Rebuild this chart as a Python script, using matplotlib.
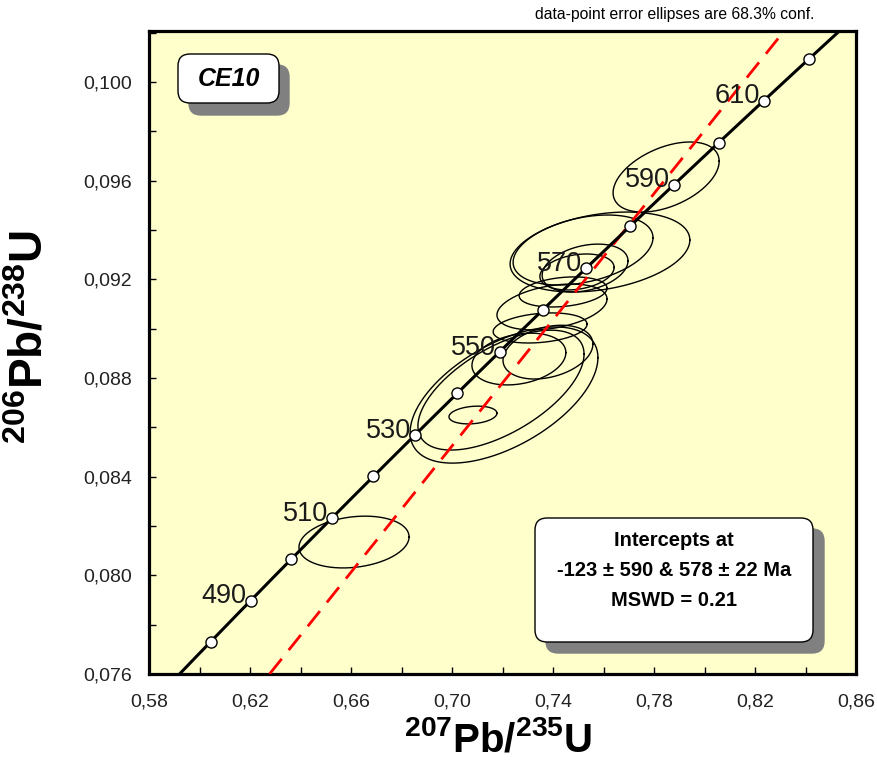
import numpy as np
import matplotlib
matplotlib.use('Agg')
import matplotlib.pyplot as plt
from matplotlib.patches import FancyBboxPatch
from matplotlib.ticker import FixedLocator, FuncFormatter, MultipleLocator
from matplotlib.transforms import IdentityTransform

plt.rcParams['font.family'] = ['Liberation Sans', 'DejaVu Sans']
plt.rcParams['mathtext.fontset'] = 'custom'
plt.rcParams['mathtext.bf'] = 'Liberation Sans:bold'
plt.rcParams['mathtext.rm'] = 'Liberation Sans:bold'
plt.rcParams['mathtext.default'] = 'bf'

# decay constants (1/Ma)
lam238 = 1.55125e-4
lam235 = 9.8485e-4

# concordia markers / labels (Ma)
marker_ages = [480, 490, 500, 510, 520, 530, 540, 550, 560, 570, 580, 590, 600, 610, 620]
label_ages = [490, 510, 530, 550, 570, 590, 610]

# discordia intercepts (Ma)
lower_int = -123
upper_int = 578

# data-point ellipses: 207Pb/235U, err, 206Pb/238U, err, rho
pb207_u235 = [0.6612, 0.7848, 0.7206, 0.7194, 0.7083, 0.7586, 0.7519, 0.7495,
              0.7527, 0.7440, 0.7349, 0.7396, 0.7380, 0.7265]
err_207 = [0.0218, 0.0210, 0.0372, 0.0329, 0.0095, 0.0356, 0.0277, 0.0147,
           0.0170, 0.0174, 0.0186, 0.0218, 0.0178, 0.0186]
pb206_u238 = [0.08135, 0.09615, 0.08731, 0.08751, 0.08650, 0.09311, 0.09319, 0.09230,
              0.09246, 0.09149, 0.09003, 0.09088, 0.08905, 0.08877]
err_206 = [0.00105, 0.00142, 0.00276, 0.00243, 0.00036, 0.00162, 0.00142, 0.00073,
           0.00097, 0.00061, 0.00061, 0.00093, 0.00109, 0.00105]
rho = [0.2, 0.45, 0.55, 0.6, 0.2, 0.3, 0.35, 0.25, 0.3, 0.25, 0.25, 0.35, 0.3, 0.25]

x_ticks = [0.58, 0.62, 0.66, 0.70, 0.74, 0.78, 0.82, 0.86]


def concordia(t):
    t = np.asarray(t, dtype=float)
    return np.exp(lam235 * t) - 1, np.exp(lam238 * t) - 1


W, H = 878, 776
fig = plt.figure(figsize=(W / 100, H / 100), dpi=100)
ax = fig.add_axes([149 / W, 1 - 674 / H, 707 / W, 643 / H])
ax.set_facecolor('#FFFFCC')

# ellipses
s = np.linspace(0, 2 * np.pi, 200)
for xc, sx, yc, sy, r in zip(pb207_u235, err_207, pb206_u238, err_206, rho):
    ex = xc + sx * np.cos(s)
    ey = yc + sy * (r * np.cos(s) + np.sqrt(1 - r ** 2) * np.sin(s))
    ax.plot(ex, ey, color='black', lw=1.0, zorder=2)

# discordia
dx, dy = concordia([lower_int, upper_int])
ax.axline((dx[0], dy[0]), (dx[1], dy[1]), color='red', lw=2, ls=(0, (7, 4)), zorder=3)

# concordia curve
tc = np.linspace(440, 660, 400)
cx, cy = concordia(tc)
ax.plot(cx, cy, color='black', lw=2.2, zorder=4)
mx, my = concordia(marker_ages)
ax.plot(mx, my, 'o', ms=8, mfc='white', mec='black', mew=1.0, zorder=5)
for a in label_ages:
    lx, ly = concordia(a)
    ax.annotate(str(a), (lx, ly), xytext=(-3, -2), textcoords='offset points',
                ha='right', va='baseline', fontsize=19.5, color='#1a1a1a', zorder=6)

ax.set_xlim(0.58, 0.86)
ax.set_ylim(0.076, 0.10207)
ax.xaxis.set_major_locator(FixedLocator(x_ticks))
ax.xaxis.set_minor_locator(MultipleLocator(0.02))
ax.yaxis.set_major_locator(MultipleLocator(0.004))
ax.yaxis.set_minor_locator(MultipleLocator(0.002))
ax.xaxis.set_major_formatter(FuncFormatter(lambda v, p: f'{v:.2f}'.replace('.', ',')))
ax.yaxis.set_major_formatter(FuncFormatter(lambda v, p: f'{v:.3f}'.replace('.', ',')))
ax.tick_params(which='both', direction='in', length=5, width=1, labelsize=14,
               labelcolor='#222222')
ax.tick_params(axis='x', pad=14)
ax.tick_params(axis='y', pad=12)
for sp in ax.spines.values():
    sp.set_linewidth(2.3)

ax.set_xlabel(r'${}^{207}Pb/{}^{235}U$', fontsize=29)
ax.xaxis.set_label_coords(0.494, -0.072)
ax.set_ylabel(r'${}^{206}Pb/{}^{238}U$', fontsize=33)
ax.yaxis.set_label_coords(-0.136, 0.525)


def px_box(x0, y0, x1, y1, color, z, lw=1.0):
    box = FancyBboxPatch((x0, H - y1), x1 - x0, y1 - y0,
                         boxstyle='round,pad=0,rounding_size=12',
                         transform=IdentityTransform(), facecolor=color,
                         edgecolor='black' if color == 'white' else color,
                         lw=lw, zorder=z)
    fig.add_artist(box)


# CE10 label box
px_box(189, 65, 289, 115, '#808080', 10)
px_box(178, 54, 279, 103, 'white', 11)
fig.text((178 + 279) / 2 / W, 1 - 79 / H, 'CE10', ha='center', va='center',
         fontsize=18, fontweight='bold', fontstyle='italic', zorder=12)

# intercepts box
px_box(546, 529, 824, 653, '#808080', 10)
px_box(535, 518, 813, 642, 'white', 11)
info = ['Intercepts at', '-123 \u00b1 590 & 578 \u00b1 22 Ma', 'MSWD = 0.21']
for i, line in enumerate(info):
    fig.text(674 / W, 1 - (541 + 30 * i) / H, line, ha='center', va='center',
             fontsize=14.5, fontweight='bold', zorder=12)

fig.text(675 / W, 1 - 15 / H, 'data-point error ellipses are 68.3% conf.',
         ha='center', va='center', fontsize=11.3)

fig.savefig('out.png', dpi=100, facecolor='white')
